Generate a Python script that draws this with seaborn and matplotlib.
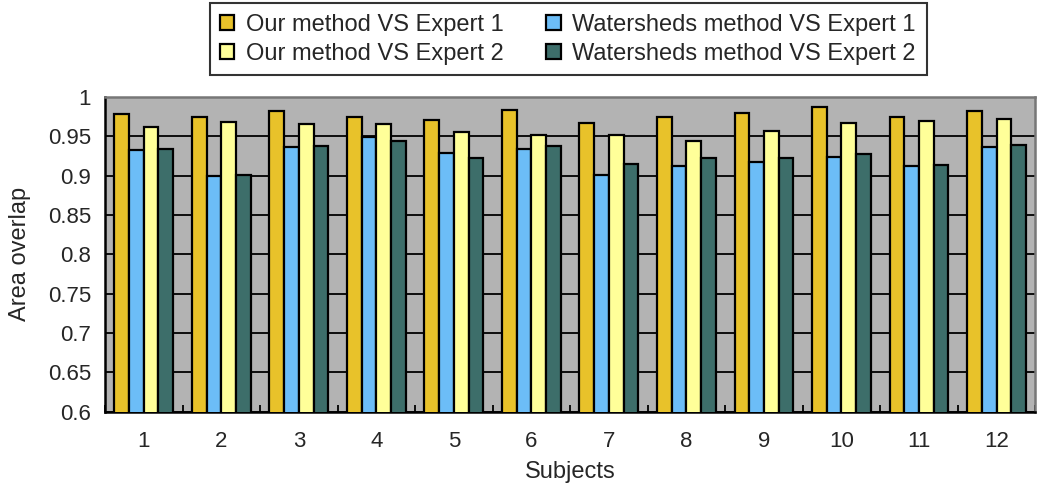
import pandas as pd
import matplotlib
matplotlib.use('Agg')
import matplotlib.pyplot as plt
import seaborn as sns
import numpy as np

subjects = [str(i) for i in range(1, 13)]
series = ['Our method VS Expert 1', 'Watersheds method VS Expert 1',
          'Our method VS Expert 2', 'Watersheds method VS Expert 2']
our_e1 = [0.978, 0.975, 0.982, 0.975, 0.971, 0.984, 0.967, 0.975, 0.980, 0.987, 0.975, 0.982]
ws_e1 = [0.932, 0.900, 0.937, 0.949, 0.929, 0.934, 0.901, 0.912, 0.917, 0.924, 0.912, 0.937]
our_e2 = [0.962, 0.968, 0.966, 0.966, 0.955, 0.952, 0.952, 0.944, 0.957, 0.967, 0.969, 0.972]
ws_e2 = [0.934, 0.901, 0.938, 0.944, 0.922, 0.938, 0.915, 0.922, 0.922, 0.927, 0.913, 0.939]
colors = ['#E8C22A', '#6CBDF7', '#FFFF99', '#3D6E6A']

rows = []
for name, vals in zip(series, [our_e1, ws_e1, our_e2, ws_e2]):
    for s, v in zip(subjects, vals):
        rows.append({'Subjects': s, 'Series': name, 'Area overlap': v})
df = pd.DataFrame(rows)

sns.set_style('white')
plt.rcParams['font.family'] = ['Liberation Sans', 'DejaVu Sans']

fig = plt.figure(figsize=(10.5, 4.92), dpi=100)
ax = fig.add_axes([0.1, 0.163, 0.886, 0.64])
ax.set_facecolor('#B3B3B3')

sns.barplot(data=df, x='Subjects', y='Area overlap', hue='Series', hue_order=series,
            palette=colors, saturation=1, width=0.76, edgecolor='black', linewidth=1.6,
            ax=ax, zorder=3)

ax.set_ylim(0.6, 1.0)
ax.set_yticks([0.6, 0.65, 0.7, 0.75, 0.8, 0.85, 0.9, 0.95, 1.0])
ax.set_yticklabels(['0.6', '0.65', '0.7', '0.75', '0.8', '0.85', '0.9', '0.95', '1'])
ax.yaxis.grid(True, color='black', linewidth=1.3, zorder=0)
ax.set_axisbelow(True)
ax.set_xticks(np.arange(-0.5, 12, 1.0), minor=True)
ax.tick_params(axis='x', which='minor', direction='in', length=5, width=1.3, color='black', bottom=True)
ax.tick_params(axis='both', which='major', labelsize=16, length=0)
ax.tick_params(axis='x', which='major', pad=14)
ax.tick_params(axis='y', which='major', pad=10)
ax.set_xlabel('Subjects', fontsize=17, labelpad=6)
ax.set_ylabel('Area overlap', fontsize=17, labelpad=12)
for side in ['left', 'bottom']:
    ax.spines[side].set_color('black')
    ax.spines[side].set_linewidth(1.8)
for side in ['top', 'right']:
    ax.spines[side].set_color('#777777')
    ax.spines[side].set_linewidth(1.8)

handles, labels = ax.get_legend_handles_labels()
order = [0, 2, 1, 3]
leg = fig.legend([handles[i] for i in order], [labels[i] for i in order],
                 loc='upper center', bbox_to_anchor=(0.541, 1.018), ncol=2,
                 fontsize=17, frameon=True, fancybox=False, edgecolor='black',
                 handlelength=0.6, handleheight=0.6, handletextpad=0.5,
                 columnspacing=1.8, borderpad=0.45, labelspacing=0.3)
leg.get_frame().set_linewidth(1.5)
ax.get_legend().remove()

fig.savefig('out.png', dpi=100, facecolor='white')
